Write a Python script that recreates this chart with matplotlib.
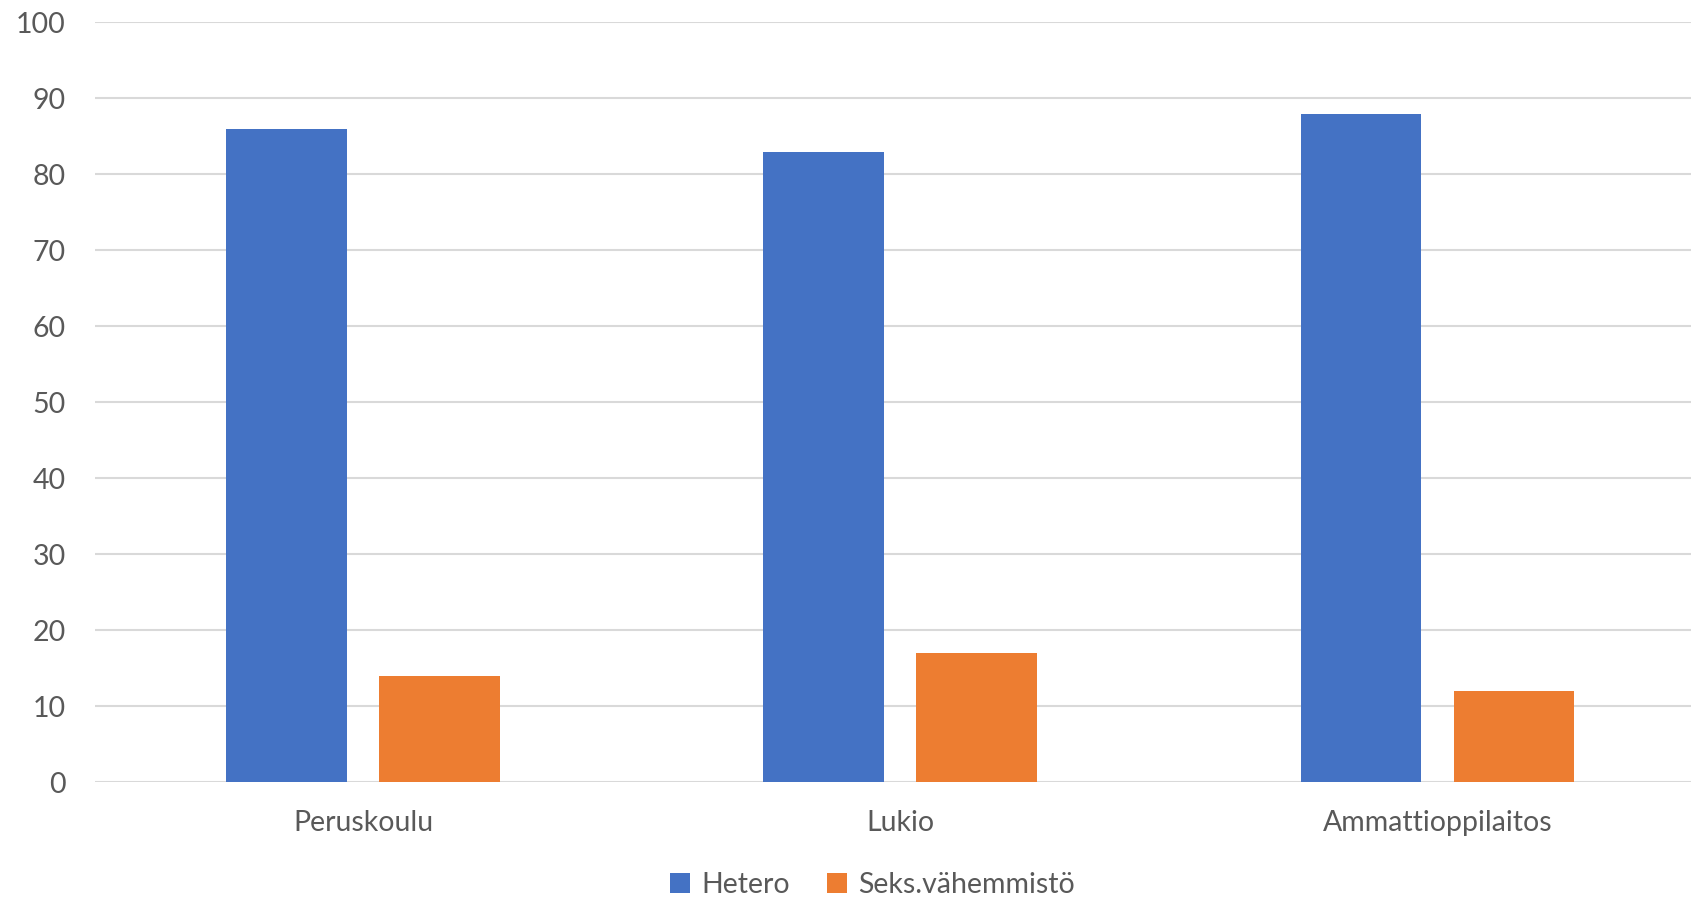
import numpy as np
import matplotlib.pyplot as plt

# Data
categories = ['Peruskoulu', 'Lukio', 'Ammattioppilaitos']
hetero = [86, 83, 88]
vahemmisto = [14, 17, 12]
series_names = ['Hetero', 'Seks.vähemmistö']

plt.rcParams['font.family'] = ['Lato', 'DejaVu Sans']
textcol = '#595959'

fig = plt.figure(figsize=(16.91, 8.98), dpi=100)
ax = fig.add_axes([0.056, 0.129, 0.944, 0.846])

x = np.arange(len(categories))
w = 0.225
ax.bar(x - 0.1425, hetero, w, color='#4472c4', label=series_names[0], zorder=3)
ax.bar(x + 0.1425, vahemmisto, w, color='#ed7d31', label=series_names[1], zorder=3)

ax.set_xlim(-0.5, 2.472)
ax.set_ylim(0, 100)
ax.set_yticks(np.arange(0, 101, 10))
ax.set_xticks(x)
ax.set_xticklabels(categories)
ax.grid(axis='y', color='#d9d9d9', linewidth=1.5, zorder=0)
for s in ax.spines.values():
    s.set_visible(False)
ax.tick_params(axis='both', length=0, labelsize=20.5, colors=textcol)
ax.tick_params(axis='x', pad=20)
ax.tick_params(axis='y', pad=21)

fig.legend(loc='center', bbox_to_anchor=(0.516, 0.015), ncol=2, frameon=False,
           fontsize=20.5, labelcolor=textcol, handlelength=0.7, handleheight=0.7,
           handletextpad=0.4, columnspacing=1.3)

fig.savefig('out.png', dpi=100)
